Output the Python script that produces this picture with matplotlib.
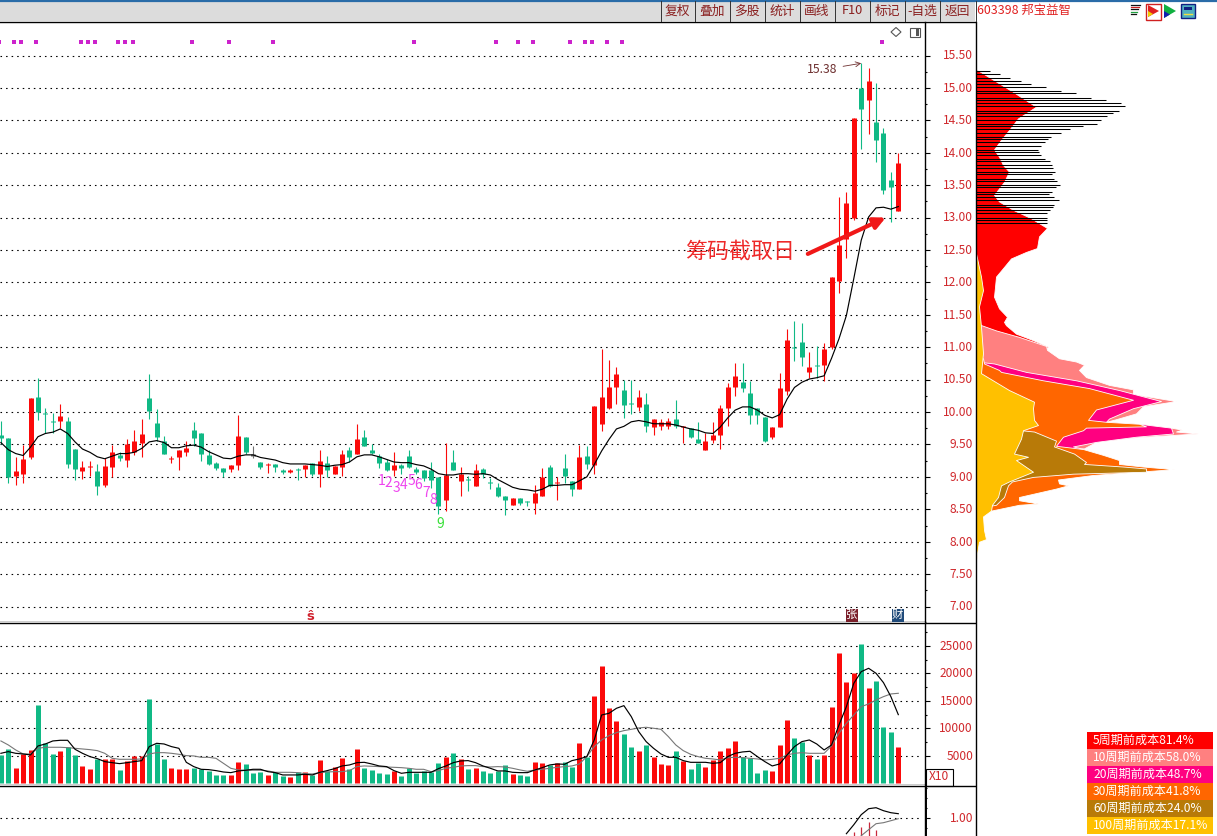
import matplotlib
matplotlib.use("Agg")
from matplotlib import pyplot as plt
from matplotlib.patches import Polygon, Rectangle
from matplotlib.transforms import ScaledTranslation

plt.rcParams['font.family'] = ['Noto Sans CJK SC', 'DejaVu Sans']

W, H = 1217, 836
RED = '#fb0a0a'
GREEN = '#10b985'
LABEL = '#d0282c'

open_ = [9.65, 9.60, 9.02, 9.05, 9.30, 10.24, 9.99, 9.87, 9.87, 9.87, 9.43, 9.09, 9.15, 9.09, 8.87, 9.16, 9.34, 9.26, 9.39, 9.53,
         10.22, 9.83, 9.56, 9.27, 9.31, 9.39, 9.73, 9.67, 9.34, 9.21, 9.14, 9.12, 9.19, 9.62, 9.33, 9.23, 9.18, 9.20, 9.10, 9.07,
         9.11, 9.12, 9.22, 9.05, 9.22, 9.05, 9.16, 9.41, 9.36, 9.62, 9.42, 9.33, 9.23, 9.11, 9.19, 9.33, 9.12, 9.11, 9.10, 9.00,
         8.65, 9.23, 8.94, 8.96, 8.86, 9.12, 8.91, 8.84, 8.71, 8.56, 8.68, 8.62, 8.59, 8.70, 9.16, 8.91, 9.14, 8.94, 8.82, 9.33,
         9.19, 9.81, 10.06, 10.38, 10.34, 10.13, 10.08, 10.12, 9.77, 9.79, 9.78, 9.89, 9.77, 9.76, 9.58, 9.42, 9.57, 9.65, 10.07, 10.39,
         10.47, 10.29, 10.07, 9.93, 9.62, 9.77, 10.32, 11.00, 11.08, 10.62, 10.72, 10.73, 11.00, 12.02, 12.67, 13.00, 15.00, 14.81, 14.48, 14.31,
         13.58, 13.10]
close_ = [9.60, 9.00, 9.09, 9.28, 10.21, 10.00, 9.97, 9.85, 9.94, 9.20, 9.12, 9.15, 9.16, 8.86, 9.17, 9.39, 9.29, 9.51, 9.56, 9.66,
          10.01, 9.62, 9.35, 9.28, 9.42, 9.45, 9.60, 9.36, 9.20, 9.14, 9.07, 9.18, 9.63, 9.39, 9.33, 9.16, 9.19, 9.15, 9.07, 9.10,
          9.10, 9.18, 9.05, 9.25, 9.11, 9.17, 9.36, 9.31, 9.59, 9.48, 9.37, 9.21, 9.10, 9.19, 9.14, 9.15, 9.08, 8.99, 8.95, 8.55,
          9.03, 9.10, 9.04, 8.95, 9.11, 9.04, 8.90, 8.70, 8.64, 8.68, 8.60, 8.61, 8.75, 9.00, 8.86, 8.92, 9.02, 8.81, 9.31, 9.20,
          10.10, 10.24, 10.38, 10.58, 10.11, 10.12, 10.23, 9.78, 9.89, 9.84, 9.87, 9.78, 9.78, 9.62, 9.52, 9.56, 9.65, 10.06, 10.38, 10.55,
          10.37, 9.96, 9.96, 9.55, 9.77, 10.37, 11.11, 10.99, 10.85, 10.70, 10.71, 10.98, 12.08, 12.58, 13.22, 14.53, 14.67, 15.11, 14.19, 13.42,
          13.47, 13.84]
high_ = [9.86, 9.60, 9.30, 9.49, 10.21, 10.53, 10.06, 9.98, 10.13, 9.92, 9.43, 9.25, 9.25, 9.20, 9.29, 9.49, 9.38, 9.58, 9.73, 9.89,
         10.59, 10.04, 9.63, 9.33, 9.42, 9.55, 9.84, 9.67, 9.42, 9.23, 9.14, 9.18, 9.96, 9.62, 9.48, 9.23, 9.21, 9.20, 9.12, 9.12,
         9.13, 9.18, 9.22, 9.42, 9.32, 9.17, 9.42, 9.46, 9.82, 9.73, 9.50, 9.35, 9.27, 9.39, 9.20, 9.42, 9.15, 9.11, 9.23, 9.00,
         9.53, 9.41, 9.15, 9.02, 9.20, 9.14, 8.98, 8.90, 8.71, 8.68, 8.68, 8.63, 8.87, 9.14, 9.19, 9.00, 9.36, 8.94, 9.49, 9.47,
         10.10, 10.98, 10.81, 10.70, 10.50, 10.50, 10.34, 10.30, 9.89, 9.90, 9.91, 10.18, 9.78, 9.76, 9.84, 9.68, 9.84, 10.11, 10.45, 10.75,
         10.75, 10.48, 10.07, 9.93, 9.77, 10.61, 11.28, 11.41, 11.37, 10.92, 11.02, 11.06, 12.08, 13.31, 13.39, 14.53, 15.38, 15.31, 15.07, 14.38,
         13.71, 13.99]
low_ = [9.50, 8.91, 8.87, 8.91, 9.27, 9.88, 9.68, 9.68, 9.75, 9.13, 8.95, 8.97, 9.02, 8.72, 8.85, 9.00, 9.25, 9.16, 9.34, 9.30,
        9.89, 9.55, 9.35, 9.22, 9.10, 9.32, 9.48, 9.25, 9.19, 9.10, 9.00, 9.08, 9.11, 9.35, 9.29, 9.12, 9.06, 9.07, 9.05, 9.06,
        8.96, 9.00, 9.02, 8.84, 9.00, 9.05, 9.02, 9.23, 9.35, 9.47, 9.35, 9.13, 9.09, 9.01, 9.05, 9.14, 9.05, 8.93, 8.83, 8.43,
        8.47, 9.10, 8.71, 8.79, 8.86, 8.98, 8.82, 8.69, 8.41, 8.56, 8.56, 8.55, 8.43, 8.70, 8.85, 8.64, 8.91, 8.71, 8.82, 9.12,
        9.04, 9.71, 10.04, 10.13, 9.91, 9.97, 10.02, 9.69, 9.65, 9.73, 9.74, 9.75, 9.52, 9.60, 9.52, 9.41, 9.52, 9.43, 9.78, 10.25,
        10.31, 9.82, 9.82, 9.54, 9.59, 9.77, 10.27, 10.79, 10.71, 10.52, 10.53, 10.48, 10.97, 11.84, 12.38, 12.97, 14.06, 14.29, 13.86, 13.37,
        12.93, 13.10]
ma_line = [9.53, 9.42, 9.36, 9.33, 9.46, 9.62, 9.67, 9.69, 9.74, 9.67, 9.54, 9.43, 9.38, 9.31, 9.28, 9.32, 9.36, 9.36, 9.38, 9.44,
           9.54, 9.56, 9.53, 9.45, 9.45, 9.48, 9.49, 9.46, 9.39, 9.34, 9.29, 9.28, 9.32, 9.34, 9.34, 9.30, 9.28, 9.26, 9.22, 9.20,
           9.20, 9.20, 9.19, 9.18, 9.16, 9.18, 9.19, 9.23, 9.31, 9.34, 9.34, 9.31, 9.27, 9.23, 9.22, 9.22, 9.19, 9.17, 9.12, 9.05,
           9.03, 9.03, 9.05, 9.05, 9.04, 9.05, 9.03, 8.96, 8.90, 8.84, 8.81, 8.80, 8.78, 8.81, 8.87, 8.87, 8.88, 8.88, 8.94, 9.00,
           9.19, 9.40, 9.58, 9.74, 9.78, 9.85, 9.87, 9.85, 9.82, 9.82, 9.82, 9.80, 9.77, 9.74, 9.72, 9.68, 9.67, 9.77, 9.91, 10.03,
           10.08, 10.08, 10.03, 9.95, 9.91, 9.96, 10.20, 10.38, 10.46, 10.51, 10.53, 10.56, 10.83, 11.13, 11.49, 12.06, 12.65, 13.01, 13.15, 13.16,
           13.13, 13.17]
volume = [5160, 6250, 2790, 5340, 6070, 14260, 7280, 5280, 5890, 6550, 5160, 3160, 2610, 4370, 4370, 4370, 2430, 4010, 4980, 4980,
          15360, 7160, 4430, 2790, 2610, 2610, 2790, 2610, 2250, 1520, 1520, 1520, 3880, 3520, 1880, 2060, 1520, 2000, 1340, 1150,
          2000, 2000, 1520, 4250, 2310, 2970, 4610, 2610, 6250, 2790, 2430, 1880, 1700, 2250, 1340, 2790, 1880, 2250, 2060, 3700,
          4800, 5520, 4430, 2610, 2790, 2250, 1880, 2250, 3280, 1700, 1520, 1340, 3880, 3700, 3280, 3700, 3880, 2910, 7340, 4730,
          15900, 21370, 13720, 11350, 8980, 6620, 5890, 6980, 4800, 3520, 3340, 5890, 4070, 2610, 3700, 2970, 4190, 5890, 6430, 7710,
          4800, 4610, 1880, 2430, 2250, 6980, 11530, 8260, 7530, 5160, 4430, 5160, 13900, 23730, 18450, 20090, 25370, 17360, 18640, 10260,
          9350, 6620]
vol_ma_short = [5460, 5770, 5460, 5340, 5160, 6800, 7160, 7710, 7830, 7830, 6190, 5460, 4860, 4490, 3950, 3760, 3580, 3760, 3950, 4130,
                6680, 7280, 7160, 6680, 6370, 3820, 3040, 2550, 2490, 2310, 2060, 1940, 2250, 2370, 2550, 2550, 2120, 1940, 1520, 1520,
                1520, 1640, 1520, 2000, 2310, 2670, 3160, 3340, 3760, 3820, 3520, 3160, 3040, 2310, 1820, 2000, 2000, 2000, 2000, 2670,
                3160, 3760, 4070, 4130, 3760, 3160, 2730, 2250, 2250, 2000, 1940, 1940, 2430, 2850, 3340, 3520, 3460, 4130, 4430, 4860,
                7890, 12440, 12750, 13660, 14140, 12140, 9410, 7590, 6370, 5340, 4730, 4730, 4130, 3820, 3820, 3820, 3640, 3760, 4860, 5460,
                5710, 5830, 4860, 3950, 3160, 3520, 5160, 6680, 7590, 7890, 7160, 6070, 6980, 10620, 13960, 18210, 20330, 20940, 20030, 18330,
                15780, 12500]
vol_ma_long = [7710, 6980, 6070, 5340, 5340, 6370, 6560, 6560, 6560, 6490, 6370, 6250, 6130, 5950, 5460, 4550, 4370, 4370, 4370, 4430,
               5340, 5580, 5580, 5460, 5280, 5040, 4980, 4730, 4730, 4550, 3640, 2730, 2430, 2370, 2370, 2370, 2250, 2000, 2000, 2000,
               1940, 1760, 1700, 1940, 2060, 2120, 2120, 2310, 3040, 3160, 3100, 3040, 2970, 2910, 2850, 2730, 2550, 2550, 2120, 2310,
               2730, 2910, 3160, 3220, 3220, 3040, 2970, 3040, 2970, 2730, 2430, 2190, 2430, 2550, 2730, 2910, 3040, 3160, 3520, 4860,
               6680, 7890, 8680, 9230, 9590, 9830, 10080, 10200, 10020, 9830, 8500, 6980, 5950, 5280, 4860, 4550, 4430, 4250, 4670, 4730,
               4670, 4550, 4430, 4250, 4370, 4550, 5160, 5460, 5580, 5460, 5460, 5460, 6800, 9100, 10930, 12440, 13960, 14450, 15180, 15780,
               16270, 16390]

# lower indicator, only the tail of it is inside the window
ind_idx = [114, 115, 116, 117, 118, 119, 120, 121]
ind_fast = [0.84, 0.93, 1.03, 1.09, 1.10, 1.07, 1.05, 1.04]
ind_slow_idx = [116, 117, 118, 119, 120, 121]
ind_slow = [0.82, 0.88, 0.94, 0.95, 0.97, 0.99]
ind_bar_idx = [115, 116, 117, 118]
ind_bar = [0.86, 0.91, 0.96, 0.88]

signal_idx = [0, 2, 3, 5, 11, 12, 13, 16, 17, 18, 26, 31, 37, 56, 67, 70, 72, 77, 79, 80, 82, 84, 119]
td_digits = ['1', '2', '3', '4', '5', '6', '7', '8', '9']
td_idx = [51, 52, 53, 54, 55, 56, 57, 58, 59]
td_price = [8.94, 8.91, 8.83, 8.88, 8.94, 8.88, 8.75, 8.64, 8.27]

# chip distribution, price / width
chip_price = [15.26, 15.21, 15.16, 15.10, 15.06, 15.01, 14.96, 14.92, 14.85, 14.81, 14.76, 14.72, 14.65, 14.61, 14.56, 14.51,
              14.45, 14.41, 14.36, 14.31, 14.25, 14.21, 14.16, 14.11, 14.05, 14.01, 13.96, 13.91, 13.87, 13.81, 13.76, 13.71,
              13.67, 13.60, 13.56, 13.51, 13.47, 13.40, 13.36, 13.31, 13.27, 13.20, 13.16, 13.11, 13.07, 13.00, 12.96, 12.91]
chip_width = [14, 24, 34, 45, 55, 70, 85, 100, 115, 130, 145, 149, 143, 137, 131, 125,
              121, 107, 94, 85, 75, 72, 69, 65, 62, 63, 65, 69, 74, 76, 77, 79,
              76, 78, 81, 84, 80, 76, 73, 78, 83, 78, 77, 74, 71, 71, 71, 71]
p5_price = [15.29, 15.10, 14.94, 14.81, 14.71, 14.61, 14.53, 14.35, 14.20, 14.05, 13.94, 13.81, 13.71, 13.55, 13.35, 13.25, 13.12,
            12.99, 12.84, 12.71, 12.53, 12.47, 12.37, 12.22, 12.09, 11.93, 11.78, 11.60, 11.47, 11.39, 11.34, 11.21, 11.11, 11.01, 10.97, 10.96]
p5_width = [0, 20, 37, 50, 60, 50, 42, 33, 25, 18, 23, 27, 33, 28, 18, 23, 37,
            55, 71, 63, 61, 50, 35, 27, 20, 19, 18, 23, 31, 28, 30, 40, 57, 72, 69, 0]
p10_price = [11.37, 11.26, 11.16, 11.02, 10.96, 10.83, 10.78, 10.73, 10.65, 10.54, 10.42, 10.35, 10.28, 10.17, 10.09, 9.98,
             9.89, 9.85, 9.82, 9.76, 9.73, 9.70, 9.67, 9.65, 9.61, 9.54, 9.44, 9.41]
p10_width = [0, 20, 43, 70, 71, 83, 100, 108, 103, 110, 133, 157, 157, 200, 167, 160,
             140, 130, 165, 195, 206, 200, 222, 200, 160, 120, 108, 0]
p20_price = [10.78, 10.75, 10.62, 10.49, 10.34, 10.17, 10.06, 9.90, 9.85, 9.82, 9.76, 9.67, 9.62, 9.54, 9.47, 9.43, 9.41]
p20_width = [0, 18, 50, 100, 143, 185, 157, 133, 130, 163, 195, 197, 160, 120, 97, 108, 0]
p30_price = [10.85, 10.83, 10.75, 10.65, 10.62, 10.49, 10.37, 10.19, 10.04, 9.88, 9.85, 9.82, 9.78, 9.76, 9.72, 9.62, 9.48, 9.43,
             9.34, 9.26, 9.20, 9.16, 9.12, 9.03, 8.96, 8.90, 8.87, 8.82, 8.69, 8.64, 8.59, 8.57, 8.48, 8.46]
p30_width = [0, 7, 8, 23, 25, 67, 113, 157, 120, 112, 130, 163, 170, 110, 107, 87, 80, 107,
             127, 143, 143, 167, 198, 117, 82, 83, 92, 80, 43, 43, 62, 43, 15, 0]
p60_price = [9.73, 9.72, 9.70, 9.56, 9.47, 9.36, 9.23, 9.20, 9.16, 9.13, 9.08, 9.05, 9.00, 8.93, 8.87, 8.69, 8.57, 8.52]
p60_width = [0, 45, 58, 80, 78, 98, 110, 108, 147, 170, 170, 97, 57, 36, 32, 28, 20, 0]
p100_price = [12.45, 12.09, 11.88, 11.63, 11.32, 10.91, 10.60, 10.34, 10.16, 10.06, 9.88, 9.80, 9.72, 9.59, 9.36, 9.31, 9.26, 9.08,
              8.93, 8.87, 8.69, 8.57, 8.48, 8.39, 8.18, 8.04, 8.00, 7.82, 7.65]
p100_width = [0, 5, 7, 3, 5, 7, 5, 33, 58, 57, 58, 62, 47, 45, 38, 52, 40, 57,
              33, 25, 22, 16, 15, 7, 8, 10, 3, 1, 0]

legend_labels = ['5周期前成本81.4%', '10周期前成本58.0%', '20周期前成本48.7%', '30周期前成本41.8%', '60周期前成本24.0%', '100周期前成本17.1%']
legend_colors = ['#ff0000', '#ff8080', '#ff0080', '#ff6600', '#b87a08', '#ffc000']
buttons = ['复权', '叠加', '多股', '统计', '画线', 'F10', '标记', '-自选', '返回']
button_edges = [660, 694, 729, 764, 799, 834, 869, 904, 939, 975]

price_ticks = [7.0, 7.5, 8.0, 8.5, 9.0, 9.5, 10.0, 10.5, 11.0, 11.5, 12.0, 12.5, 13.0, 13.5, 14.0, 14.5, 15.0, 15.5]
vol_ticks = [5000, 10000, 15000, 20000, 25000]


def box(x0, y0, x1, y1):
    return [x0 / W, 1 - y1 / H, (x1 - x0) / W, (y1 - y0) / H]


def right_axis(ax, ticks, minor, fmt):
    ax.set_xlim(-0.12, 124.6)
    ax.set_xticks([])
    ax.yaxis.tick_right()
    ax.set_yticks(ticks)
    ax.set_yticklabels([fmt % t for t in ticks])
    ax.set_yticks(minor, minor=True)
    ax.tick_params(axis='y', which='major', length=3.6, width=0.8, pad=31, labelsize=8.6, labelcolor=LABEL)
    ax.tick_params(axis='y', which='minor', length=1.6, width=0.8)
    up = ScaledTranslation(0, 1.2 / 100, fig.dpi_scale_trans)
    for lab in ax.get_yticklabels():
        lab.set_ha('right')
        lab.set_transform(lab.get_transform() + up)
    ax.hlines(ticks, -0.12, 123.8, color='black', lw=0.8, linestyles=(0, (1.4, 3.6)), zorder=1)
    for side in ['left', 'top']:
        ax.spines[side].set_visible(False)
    ax.spines['bottom'].set_linewidth(1)
    ax.spines['right'].set_linewidth(1)


fig = plt.figure(figsize=(W / 100, H / 100), dpi=100, facecolor='white')
n = range(len(close_))

# candles
ax = fig.add_axes(box(0, 22, 925, 622))
ax.set_ylim(6.762, 16.017)
right_axis(ax, price_ticks, [p + 0.25 for p in price_ticks[:-1]], '%.2f')
for i in n:
    if close_[i] > open_[i]:
        c = RED
    elif close_[i] < open_[i]:
        c = GREEN
    else:
        c = '#707070'
    ax.vlines(i, low_[i], high_[i], color=c, lw=0.8, zorder=2)
    # body as a wide line so every candle gets the same pixel width, flat ones still show
    bot = min(open_[i], close_[i])
    top = max(max(open_[i], close_[i]), bot + 0.018)
    ax.vlines(i, bot, top, color=c, lw=3.6, zorder=3)
ax.plot(n, ma_line, color='black', lw=0.85, zorder=4)
ax.plot([i - 0.25 for i in signal_idx], [15.708] * len(signal_idx), ls='none', marker='s', ms=2.2, color='#cc22cc', mew=0)
for d, i, p in zip(td_digits, td_idx, td_price):
    ax.text(i + 0.3, p, d, color='#38e038' if d == '9' else '#ee44ee', fontsize=10, ha='center', va='center')
ax.annotate('15.38', xy=(116, 15.38), xytext=(108.7, 15.28), color='#6e3030', fontsize=8.8, va='center',
            arrowprops=dict(arrowstyle='->', color='#6e3030', lw=0.6, shrinkA=2, shrinkB=0))
ax.annotate('', xy=(119.3, 13.0), xytext=(108.8, 12.44),
            arrowprops=dict(arrowstyle='-|>', color='#f01818', lw=3, mutation_scale=17, shrinkA=0, shrinkB=0), zorder=6)
ax.text(92.3, 12.48, '筹码截取日', color='#ee2828', fontsize=15.8, va='center', zorder=6)

# volume
vax = fig.add_axes(box(0, 622, 925, 785))
vax.set_ylim(-310, 29370)
right_axis(vax, vol_ticks, [2500, 7500, 12500, 17500, 22500, 27500], '%d')
vcolors = [RED if close_[i] > open_[i] else GREEN for i in n]
vax.vlines(n, 0, volume, color=vcolors, lw=3.6, zorder=3)
vax.plot(n, vol_ma_long, color='#777777', lw=0.8, zorder=4)
vax.plot(n, vol_ma_short, color='black', lw=0.85, zorder=5)

# lower indicator
lax = fig.add_axes(box(0, 785, 925, 836))
lax.set_ylim(0.817, 1.327)
right_axis(lax, [1.0], [0.9, 1.1, 1.2, 1.3], '%.2f')
lax.spines['bottom'].set_visible(False)
lax.vlines(ind_bar_idx, 0.7, ind_bar, color='#c8283c', lw=0.9, zorder=3)
lax.plot(ind_slow_idx, ind_slow, color='#777777', lw=0.8, zorder=4)
lax.plot(ind_idx, ind_fast, color='black', lw=0.85, zorder=5)

# chip distribution
cax = fig.add_axes(box(976, 22, 1217, 622))
cax.set_xlim(0, 241)
cax.set_ylim(6.762, 16.017)
cax.axis('off')
cax.hlines(chip_price, 0, chip_width, color='black', lw=0.75)
layers = [(p5_price, p5_width), (p10_price, p10_width), (p20_price, p20_width),
          (p30_price, p30_width), (p60_price, p60_width), (p100_price, p100_width)]
for (pr, wd), col in zip(layers, legend_colors):
    cax.fill_betweenx(pr, 0, wd, facecolor=col, edgecolor='white', lw=0.6)

# window furniture, in pixels
ov = fig.add_axes([0, 0, 1, 1], facecolor='none', zorder=10)
ov.set_xlim(0, W)
ov.set_ylim(H, 0)
ov.axis('off')
ov.add_patch(Rectangle((0, 1), 975, 20, color='#dcdcdc', lw=0))
ov.plot([0, W], [0.5, 0.5], color='#2a6ca8', lw=1.6)
ov.plot([0, 975], [21.5, 21.5], color='black', lw=1)
ov.plot([0, 975], [622.5, 622.5], color='black', lw=1)
ov.plot([0, 975], [785.5, 785.5], color='black', lw=1)
ov.plot([975.5, 975.5], [22, H], color='black', lw=1)
ov.plot([925.5, 925.5], [785, H], color='black', lw=1.4)
for e in button_edges:
    ov.plot([e + 0.5, e + 0.5], [1, 21], color='#333333', lw=0.7)
for b, e0, e1 in zip(buttons, button_edges[:-1], button_edges[1:]):
    ov.text((e0 + e1) / 2 + 0.5, 11, b, color='#8a2020', fontsize=9.2, ha='center', va='center')
ov.text(977, 10, '603398 邦宝益智', color='#e02020', fontsize=8.9, va='center')

# little toolbar icons
for k, col in enumerate(['#111111', '#cc2020', '#111111', '#20a040', '#111111']):
    ov.plot([1131, 1140 - k], [5 + 2.2 * k, 5 + 2.2 * k], color=col, lw=0.9)
ov.add_patch(Rectangle((1146, 3.5), 15, 16, fill=False, edgecolor='#d02020', lw=1))
ov.add_patch(Polygon([[1148, 5], [1159, 11], [1148, 17]], color='#e02020', lw=0))
ov.add_patch(Polygon([[1148, 11], [1153, 14], [1148, 17]], color='#f0d000', lw=0))
ov.add_patch(Polygon([[1164, 4], [1176, 11], [1164, 18]], color='#10b040', lw=0))
ov.add_patch(Polygon([[1164, 11], [1170, 14.5], [1164, 18]], color='#1020b0', lw=0))
ov.add_patch(Rectangle((1181, 4), 14, 14, facecolor='#50b0c0', edgecolor='#102080', lw=1))
ov.add_patch(Rectangle((1184, 7), 8, 3, color='#102080', lw=0))
ov.plot([1184, 1192], [14, 14], color='#f0e040', lw=1)

ov.add_patch(Polygon([[896, 27.5], [901, 32], [896, 36.5], [891, 32]], fill=False, edgecolor='#555555', lw=0.8))
ov.add_patch(Rectangle((910, 27.5), 10, 9, fill=False, edgecolor='#555555', lw=0.8))
ov.add_patch(Rectangle((916, 28.5), 3, 7, color='#555555', lw=0))

ov.text(310.5, 616, 'ŝ', color='#d0202c', fontsize=9.5, fontweight='bold', ha='center', va='center')
for cx, col, ch in [(852, '#7a1f2a', '张'), (897.5, '#1f4a7a', '财')]:
    ov.add_patch(Rectangle((cx - 6, 608.5), 12, 13, color=col, lw=0))
    ov.text(cx, 614.5, ch, color='white', fontsize=8.2, ha='center', va='center')

ov.add_patch(Rectangle((925.5, 768.5), 27, 17, facecolor='white', edgecolor='black', lw=0.8))
ov.text(939, 777, 'X10', color=LABEL, fontsize=8.6, ha='center', va='center')

for k, (lab, col) in enumerate(zip(legend_labels, legend_colors)):
    ov.add_patch(Rectangle((1087, 732 + 17 * k), 126, 17, color=col, lw=0))
    ov.text(1093, 740.5 + 17 * k, lab, color='white', fontsize=8.7, va='center')

fig.savefig('out.png', dpi=100)
